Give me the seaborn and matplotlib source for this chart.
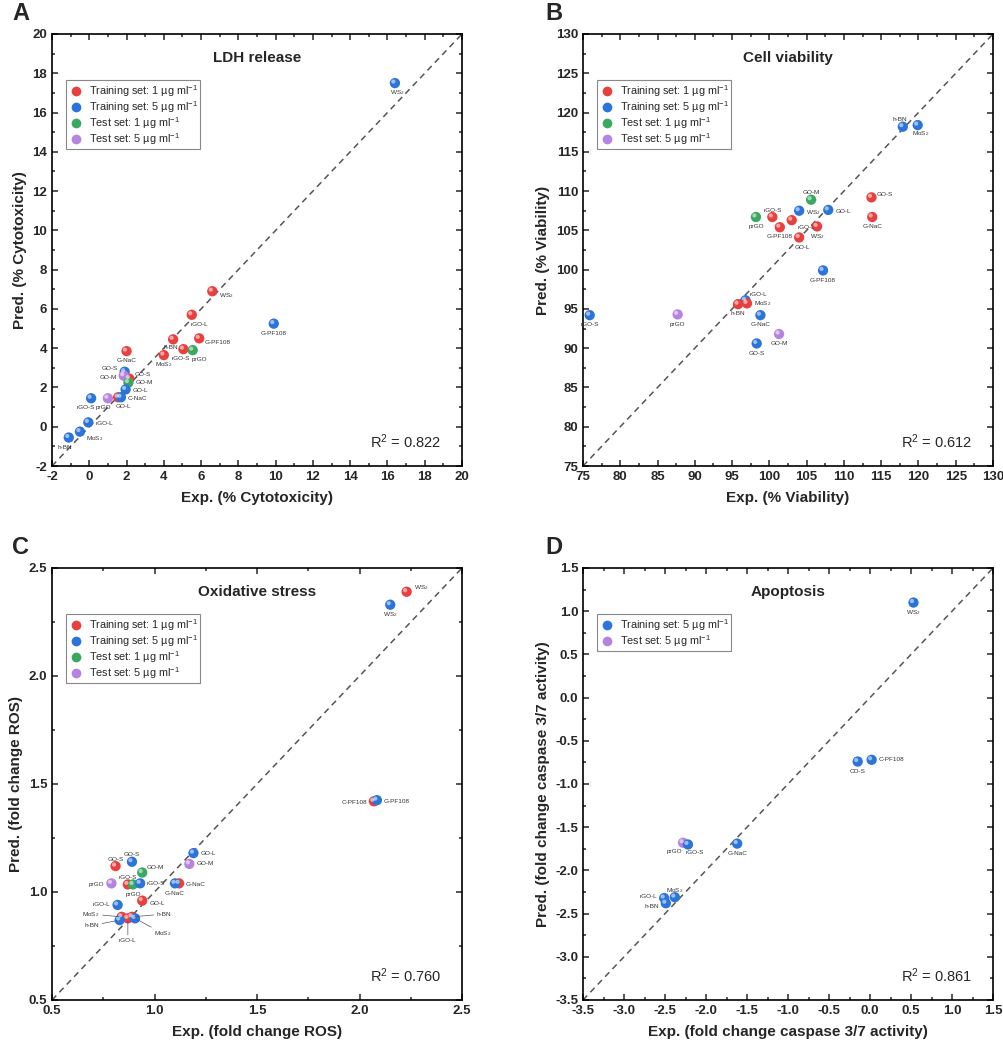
import pandas as pd
import seaborn as sns
import matplotlib.pyplot as plt
from matplotlib.ticker import MultipleLocator
from matplotlib.lines import Line2D
from matplotlib.transforms import offset_copy

sns.set_style('ticks')
plt.rcParams['font.family'] = ['Liberation Sans', 'DejaVu Sans']
plt.rcParams['mathtext.default'] = 'regular'
plt.rcParams['axes.unicode_minus'] = False

# ---- data -------------------------------------------------------------
set_names = ['Training set: 1 µg ml$^{-1}$', 'Training set: 5 µg ml$^{-1}$',
             'Test set: 1 µg ml$^{-1}$', 'Test set: 5 µg ml$^{-1}$']
set_colors = ['#e8403f', '#2b74da', '#3aa860', '#b583e0']

# A: LDH release
ldh_name = ['WS$_2$', 'G-PF108', 'WS$_2$', 'rGO-L', 'h-BN', 'G-PF108', 'rGO-S', 'prGO',
            'MoS$_2$', 'G-NaC', 'GO-S', 'GO-S', 'GO-M', 'GO-M', 'GO-L', 'GO-L', 'C-NaC',
            'rGO-S', 'prGO', 'rGO-L', 'MoS$_2$', 'h-BN']
ldh_exp = [16.4, 9.9, 6.6, 5.5, 4.5, 5.9, 5.05, 5.55, 4.0, 2.0, 1.9, 2.15, 1.85, 2.1,
           1.95, 1.55, 1.7, 0.1, 1.0, -0.05, -0.5, -1.1]
ldh_pred = [17.5, 5.25, 6.9, 5.7, 4.45, 4.5, 3.95, 3.9, 3.65, 3.85, 2.8, 2.45, 2.6, 2.25,
            1.9, 1.5, 1.5, 1.45, 1.45, 0.22, -0.25, -0.55]
ldh_set = [1, 1, 0, 0, 0, 0, 0, 2, 0, 0, 1, 0, 3, 2, 1, 0, 1, 1, 3, 1, 1, 1]

# B: cell viability
via_name = ['h-BN', 'MoS$_2$', 'GO-S', 'G-NaC', 'GO-M', 'rGO-S', 'prGO', 'WS$_2$', 'GO-L',
            'rGO-L', 'G-PF108', 'WS$_2$', 'GO-L', 'G-PF108', 'rGO-L', 'MoS$_2$', 'h-BN',
            'G-NaC', 'GO-S', 'GO-M', 'rGO-S', 'prGO']
via_exp = [117.9, 119.9, 113.7, 113.8, 105.6, 100.4, 98.2, 104.0, 107.9, 103.0, 101.4,
           106.4, 104.0, 107.2, 96.8, 97.0, 95.8, 98.8, 98.3, 101.3, 75.9, 87.7]
via_pred = [118.2, 118.4, 109.2, 106.7, 108.9, 106.7, 106.7, 107.5, 107.6, 106.3, 105.4,
            105.5, 104.1, 99.9, 96.1, 95.7, 95.6, 94.2, 90.6, 91.8, 94.2, 94.3]
via_set = [1, 1, 0, 0, 2, 0, 2, 1, 1, 0, 0, 0, 0, 1, 1, 0, 0, 1, 1, 3, 1, 3]

# C: oxidative stress
ros_name = ['WS$_2$', 'WS$_2$', 'C-PF108', 'G-PF108', 'GO-L', 'GO-M', 'G-NaC', 'G-NaC',
            'GO-S', 'GO-S', 'GO-M', 'rGO-S', 'prGO', 'rGO-S', 'prGO', 'GO-L', 'rGO-L',
            'MoS$_2$', 'h-BN', 'rGO-L', 'h-BN', 'MoS$_2$']
ros_exp = [2.23, 2.15, 2.07, 2.085, 1.19, 1.17, 1.12, 1.10, 0.81, 0.89, 0.94, 0.87, 0.895,
           0.93, 0.79, 0.94, 0.82, 0.84, 0.89, 0.87, 0.83, 0.905]
ros_pred = [2.39, 2.33, 1.42, 1.425, 1.18, 1.13, 1.04, 1.04, 1.12, 1.14, 1.09, 1.035, 1.035,
            1.04, 1.04, 0.96, 0.94, 0.885, 0.885, 0.878, 0.87, 0.878]
ros_set = [0, 1, 0, 1, 1, 3, 0, 1, 0, 1, 2, 0, 2, 1, 3, 0, 1, 0, 0, 0, 1, 1]

# D: apoptosis
apo_name = ['WS$_2$', 'CO-S', 'C-PF108', 'G-NaC', 'prGO', 'rGO-S', 'MoS$_2$', 'rGO-L', 'h-BN']
apo_exp = [0.53, -0.15, 0.02, -1.62, -2.28, -2.22, -2.38, -2.51, -2.49]
apo_pred = [1.1, -0.74, -0.72, -1.69, -1.68, -1.70, -2.31, -2.32, -2.38]
apo_set = [1, 1, 1, 1, 3, 1, 1, 1, 1]

# label offsets (points) and alignment, leader line flag
B_ = (0, -7, 'center', False)
R_ = (5, -1, 'left', False)
L_ = (-5, -1, 'right', False)
T_ = (0, 5, 'center', False)
ldh_off = [(2, -7, 'center', False), B_, (5, -3, 'left', False), (-1, -7, 'left', False),
           (-2, -6, 'center', False), (4, -3, 'left', False), (-2, -7, 'center', False),
           (5, -7, 'center', False), B_, B_, (-5, 2, 'right', False), (4, 3, 'left', False),
           L_, (5, 0, 'left', False), R_, (4, -7, 'center', False), R_,
           (-4, -7, 'center', False), (-3, -7, 'center', False), R_,
           (4, -5, 'left', False), (-3, -7, 'center', False)]
via_off = [(-2, 5, 'center', False), (2, -6, 'center', False), (4, 2, 'left', False), B_, T_,
           T_, B_, R_, R_, (4, -5, 'left', False), B_, B_, (2, -7, 'center', False), B_,
           (3, 4, 'left', False), (5, 0, 'left', False), B_, B_, B_, B_, B_, B_]
ros_off = [(5, 3, 'left', False), B_, L_, R_, (5, 0, 'left', False), (5, 0, 'left', False),
           R_, B_, T_, T_, (3, 4, 'left', False), T_, B_, (5, 0, 'left', False), L_,
           (5, -2, 'left', False), (-5, 0, 'right', False),
           (-16, 2, 'right', True), (18, 2, 'left', True), (0, -16, 'center', True),
           (-15, -4, 'right', True), (14, -11, 'left', True)]
apo_off = [B_, B_, (5, 0, 'left', False), B_, (-6, -6, 'center', False),
           (5, -6, 'center', False), T_, (-5, 1, 'right', False), (-5, -2, 'right', False)]

panels = [
    dict(letter='A', title='LDH release', xl='Exp. (% Cytotoxicity)', yl='Pred. (% Cytotoxicity)',
         name=ldh_name, x=ldh_exp, y=ldh_pred, s=ldh_set, off=ldh_off, lim=(-2, 20),
         major=2, minor=1, r2='0.822', sets=[0, 1, 2, 3]),
    dict(letter='B', title='Cell viability', xl='Exp. (% Viability)', yl='Pred. (% Viability)',
         name=via_name, x=via_exp, y=via_pred, s=via_set, off=via_off, lim=(75, 130),
         major=5, minor=2.5, r2='0.612', sets=[0, 1, 2, 3]),
    dict(letter='C', title='Oxidative stress', xl='Exp. (fold change ROS)',
         yl='Pred. (fold change ROS)', name=ros_name, x=ros_exp, y=ros_pred, s=ros_set,
         off=ros_off, lim=(0.5, 2.5), major=0.5, minor=0.25, r2='0.760',
         sets=[0, 1, 2, 3]),
    dict(letter='D', title='Apoptosis', xl='Exp. (fold change caspase 3/7 activity)',
         yl='Pred. (fold change caspase 3/7 activity)', name=apo_name, x=apo_exp, y=apo_pred,
         s=apo_set, off=apo_off, lim=(-3.5, 1.5), major=0.5, minor=0.25, r2='0.861',
         sets=[1, 3]),
]

fig = plt.figure(figsize=(10.04, 10.5), dpi=100)
W, H = 1004, 1050
boxes = [(52, 34), (583, 34), (52, 568), (583, 568)]
letter_pos = [(12, 14), (545, 14), (12, 548), (545, 548)]

for p, (bx, by), (lx, ly) in zip(panels, boxes, letter_pos):
    ax = fig.add_axes([bx / W, 1 - (by + 432) / H, 410 / W, 432 / H])
    df = pd.DataFrame({'exp': p['x'], 'pred': p['y'],
                       'set': [set_names[i] for i in p['s']], 'name': p['name']})
    lo, hi = p['lim']
    ax.plot([lo, hi], [lo, hi], ls=(0, (4, 3)), color='#555555', lw=1.1, zorder=1)
    pal = {set_names[i]: set_colors[i] for i in range(4)}
    sns.scatterplot(data=df, x='exp', y='pred', hue='set', palette=pal, s=55,
                    edgecolor='none', legend=False, ax=ax, zorder=3)
    # sphere highlight
    hl = offset_copy(ax.transData, fig=fig, x=-1.1, y=1.1, units='points')
    ax.scatter(df['exp'], df['pred'], s=9, color='white', alpha=0.55,
               edgecolors='none', transform=hl, zorder=4)
    for (nm, xv, yv), (dx, dy, ha, lead) in zip(zip(df['name'], df['exp'], df['pred']), p['off']):
        ax.annotate(nm, (xv, yv), xytext=(dx, dy), textcoords='offset points',
                    ha=ha, va='center', fontsize=4.6, color='#333333', zorder=5,
                    arrowprops=dict(arrowstyle='-', color='#555555', lw=0.5,
                                    shrinkA=0, shrinkB=2) if lead else None)
    ax.set_xlim(lo, hi)
    ax.set_ylim(lo, hi)
    ax.xaxis.set_major_locator(MultipleLocator(p['major']))
    ax.yaxis.set_major_locator(MultipleLocator(p['major']))
    ax.xaxis.set_minor_locator(MultipleLocator(p['minor']))
    ax.yaxis.set_minor_locator(MultipleLocator(p['minor']))
    ax.tick_params(which='both', direction='in', top=True, right=True, width=1.1)
    ax.tick_params(which='major', length=4.5, labelsize=9.5)
    ax.tick_params(which='minor', length=2.5)
    for lab in ax.get_xticklabels() + ax.get_yticklabels():
        lab.set_fontweight('bold')
    for sp in ax.spines.values():
        sp.set_linewidth(1.2)
        sp.set_color('black')
    ax.set_xlabel(p['xl'], fontsize=11, fontweight='bold', labelpad=6)
    ax.set_ylabel(p['yl'], fontsize=11, fontweight='bold', labelpad=4)
    ax.text(0.5, 0.944, p['title'], transform=ax.transAxes, ha='center', va='center',
            fontsize=11, fontweight='bold')
    ax.text(0.95, 0.056, 'R$^2$ = ' + p['r2'], transform=ax.transAxes, ha='right',
            va='center', fontsize=10.5)
    handles = [Line2D([], [], ls='none', marker='o', markersize=7,
                      markerfacecolor=set_colors[i], markeredgecolor='none')
               for i in p['sets']]
    leg = ax.legend(handles, [set_names[i] for i in p['sets']], loc='upper left',
                    bbox_to_anchor=(0.035, 0.893), borderaxespad=0, fontsize=7.8,
                    frameon=True, fancybox=False, edgecolor='#888888', framealpha=1,
                    handletextpad=0.6, labelspacing=0.02, borderpad=0.25,
                    handlelength=1.2)
    leg.get_frame().set_linewidth(0.8)
    fig.text(lx / W, 1 - ly / H, p['letter'], ha='left', va='center', fontsize=17,
             fontweight='bold')

plt.savefig('out.png', dpi=100)
